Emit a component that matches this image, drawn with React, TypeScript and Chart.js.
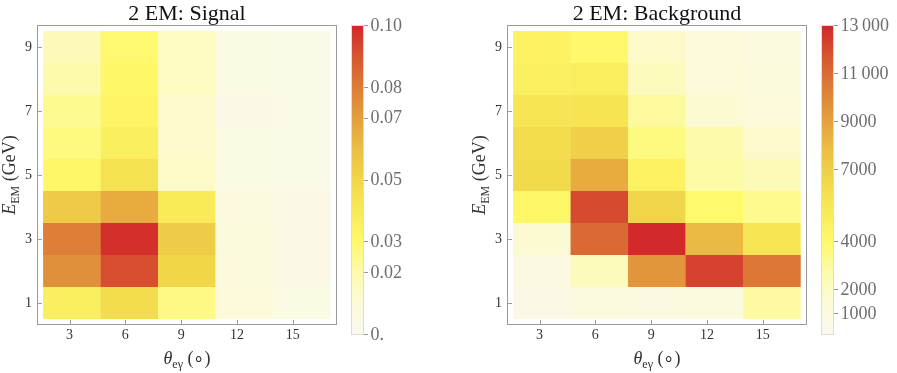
import React, { useEffect, useRef } from "react";
import { Chart, registerables } from "chart.js";

Chart.register(...registerables);

const SERIF = "'Liberation Serif', 'Times New Roman', serif";

// axis ticks
const xTicks = [3, 6, 9, 12, 15];
const yTicks = [1, 3, 5, 7, 9];
// bin centres of the cells
const xBinCenters = [3.13, 6.22, 9.31, 12.4, 15.49];
const yBinCenters = [1, 2, 3, 4, 5, 6, 7, 8, 9];
const xRange = [1.25, 17.38];
const yRange = [0.31, 9.69];

// rows: E_EM = 1 ... 9 ; columns: theta bins 3 ... 15
const signalRows = [
  [0.037, 0.047, 0.026, 0.009, 0.005],
  [0.074, 0.091, 0.05, 0.008, 0.004],
  [0.079, 0.098, 0.054, 0.008, 0.004],
  [0.055, 0.066, 0.04, 0.007, 0.004],
  [0.031, 0.044, 0.014, 0.005, 0.003],
  [0.027, 0.037, 0.013, 0.005, 0.003],
  [0.024, 0.033, 0.013, 0.004, 0.003],
  [0.02, 0.031, 0.015, 0.005, 0.003],
  [0.017, 0.029, 0.015, 0.005, 0.003],
];

const backgroundRows = [
  [600, 1000, 900, 1100, 2900],
  [900, 2200, 9500, 12200, 10600],
  [1600, 11000, 12900, 8000, 5600],
  [4200, 12000, 6700, 4000, 3300],
  [6300, 8600, 4600, 2800, 2400],
  [6200, 6900, 3600, 2700, 1800],
  [5600, 5700, 3000, 1600, 1400],
  [4800, 4900, 2200, 1400, 1200],
  [4600, 4100, 1900, 1300, 1100],
];

// colour bars
const signalBarTicks = [0, 0.02, 0.03, 0.05, 0.07, 0.08, 0.1];
const signalBarLabels = ["0.", "0.02", "0.03", "0.05", "0.07", "0.08", "0.10"];
const signalRange = [0, 0.1];

const backgroundBarTicks = [1000, 2000, 4000, 7000, 9000, 11000, 13000];
const backgroundBarLabels = ["1000", "2000", "4000", "7000", "9000", "11\u2009000", "13\u2009000"];
const backgroundRange = [142, 13000];

const colorStops: [number, string][] = [
  [0.0, "#FAF9EE"],
  [0.1, "#FCFAD8"],
  [0.2, "#FDFAAC"],
  [0.3, "#FFF96B"],
  [0.4, "#F8EA58"],
  [0.5, "#F1D64A"],
  [0.6, "#EBBE43"],
  [0.7, "#E49E3C"],
  [0.8, "#DD7C36"],
  [0.9, "#D75431"],
  [1.0, "#D2262A"],
];

function hexToRgb(h: string) {
  const n = parseInt(h.slice(1), 16);
  return [(n >> 16) & 255, (n >> 8) & 255, n & 255];
}

function colorFor(v: number, range: number[]) {
  let f = (v - range[0]) / (range[1] - range[0]);
  f = Math.max(0, Math.min(1, f));
  for (let i = 0; i < colorStops.length - 1; i++) {
    const [f0, c0] = colorStops[i];
    const [f1, c1] = colorStops[i + 1];
    if (f <= f1) {
      const t = (f - f0) / (f1 - f0);
      const a = hexToRgb(c0);
      const b = hexToRgb(c1);
      const m = a.map((x, k) => Math.round(x + (b[k] - x) * t));
      return `rgb(${m[0]},${m[1]},${m[2]})`;
    }
  }
  return colorStops[colorStops.length - 1][1];
}

type Seg = { text: string; font: string; dy: number };

function drawSegs(ctx: CanvasRenderingContext2D, segs: Seg[], cx: number, cy: number) {
  let total = 0;
  const widths = segs.map((s) => {
    ctx.font = s.font;
    const w = ctx.measureText(s.text).width;
    total += w;
    return w;
  });
  let x = cx - total / 2;
  segs.forEach((s, i) => {
    ctx.font = s.font;
    ctx.fillText(s.text, x, cy + s.dy);
    x += widths[i];
  });
}

type HeatProps = {
  title: string;
  rows: number[][];
  range: number[];
  barTicks: number[];
  barLabels: string[];
  left: number;
};

function Heatmap({ title, rows, range, barTicks, barLabels, left }: HeatProps) {
  const ref = useRef<HTMLCanvasElement | null>(null);

  useEffect(() => {
    if (!ref.current) return;
    const tickStep = xTicks[1] - xTicks[0];
    const binW = xBinCenters[1] - xBinCenters[0];

    const decor = {
      id: "decor",
      afterDraw(chart: any) {
        const ctx: CanvasRenderingContext2D = chart.ctx;
        const a = chart.chartArea;
        const xs = chart.scales.x;
        const ys = chart.scales.y;
        ctx.save();
        // frame
        ctx.strokeStyle = "#9a9a9a";
        ctx.lineWidth = 1;
        ctx.strokeRect(a.left + 0.5, a.top + 0.5, a.right - a.left - 1, a.bottom - a.top - 1);
        // inward ticks
        ctx.beginPath();
        xTicks.forEach((v) => {
          const px = Math.round(xs.getPixelForValue(v)) + 0.5;
          ctx.moveTo(px, a.bottom);
          ctx.lineTo(px, a.bottom - 5);
        });
        yTicks.forEach((v) => {
          const py = Math.round(ys.getPixelForValue(v)) + 0.5;
          ctx.moveTo(a.left, py);
          ctx.lineTo(a.left + 5, py);
        });
        ctx.stroke();

        // title
        ctx.fillStyle = "#111";
        ctx.textAlign = "center";
        ctx.textBaseline = "alphabetic";
        ctx.font = `22px ${SERIF}`;
        ctx.fillText(title, (a.left + a.right) / 2, a.top - 5.5);

        // x axis title
        ctx.textAlign = "left";
        ctx.fillStyle = "#333";
        drawSegs(
          ctx,
          [
            { text: "\u03B8", font: `italic 18px ${SERIF}`, dy: 0 },
            { text: "e\u03B3", font: `12px ${SERIF}`, dy: 4 },
            { text: " (\u2218)", font: `18px ${SERIF}`, dy: 0 },
          ],
          (a.left + a.right) / 2,
          a.bottom + 38.5
        );

        // y axis title
        ctx.save();
        ctx.translate(a.left - 21.7, (a.top + a.bottom) / 2);
        ctx.rotate(-Math.PI / 2);
        drawSegs(
          ctx,
          [
            { text: "E", font: `italic 18px ${SERIF}`, dy: 0 },
            { text: "EM", font: `12px ${SERIF}`, dy: 4 },
            { text: " (GeV)", font: `18px ${SERIF}`, dy: 0 },
          ],
          0,
          0
        );
        ctx.restore();

        // colour bar
        const bx0 = a.right + 14;
        const bx1 = a.right + 27;
        const top = a.top;
        const bottom = a.bottom + 9;
        const yFor = (v: number) => top + ((range[1] - v) / (range[1] - range[0])) * (bottom - top);
        const grad = ctx.createLinearGradient(0, bottom, 0, top);
        colorStops.forEach(([f, c]) => grad.addColorStop(f, c));
        ctx.fillStyle = grad;
        ctx.fillRect(bx0, top, bx1 - bx0, bottom + 1 - top);
        ctx.strokeStyle = "#dcdcdc";
        ctx.strokeRect(bx0 + 0.5, top + 0.5, bx1 - bx0 - 1, bottom + 1 - top - 1);
        ctx.strokeStyle = "#999";
        ctx.beginPath();
        barTicks.forEach((v) => {
          const py = Math.round(yFor(v)) + 0.5;
          ctx.moveTo(bx1, py);
          ctx.lineTo(bx1 + 4, py);
        });
        ctx.stroke();
        ctx.fillStyle = "#6e6e6e";
        ctx.font = `18px ${SERIF}`;
        ctx.textAlign = "left";
        ctx.textBaseline = "middle";
        barTicks.forEach((v, i) => {
          ctx.fillText(barLabels[i], bx1 + 6.5, yFor(v) + 1);
        });
        ctx.restore();
      },
    };

    const chart = new Chart(ref.current, {
      type: "bar",
      data: {
        datasets: rows.map((row, r) => ({
          data: row.map((_v, c) => ({
            x: xBinCenters[c],
            y: [yBinCenters[r] - 0.5, yBinCenters[r] + 0.5],
          })),
          backgroundColor: row.map((v) => colorFor(v, range)),
          borderWidth: 0,
          grouped: false,
          barPercentage: 1,
          categoryPercentage: (binW / tickStep) * 1.005,
        })),
      } as any,
      options: {
        animation: false,
        responsive: false,
        maintainAspectRatio: false,
        events: [],
        layout: { padding: { top: 25, right: 103, left: 0, bottom: 0 } },
        plugins: {
          legend: { display: false },
          tooltip: { enabled: false },
          title: { display: false },
        },
        scales: {
          x: {
            type: "linear",
            min: xRange[0],
            max: xRange[1],
            offset: false,
            grid: { display: false, drawTicks: false },
            border: { display: false },
            afterBuildTicks: (s: any) => {
              s.ticks = xTicks.map((v) => ({ value: v }));
            },
            afterFit: (s: any) => {
              s.height = 48;
            },
            ticks: {
              padding: 2,
              autoSkip: false,
              maxRotation: 0,
              color: "#333",
              font: { family: SERIF, size: 14 },
            },
          },
          y: {
            type: "linear",
            min: yRange[0],
            max: yRange[1],
            beginAtZero: false,
            grid: { display: false, drawTicks: false },
            border: { display: false },
            afterBuildTicks: (s: any) => {
              s.ticks = yTicks.map((v) => ({ value: v }));
            },
            afterFit: (s: any) => {
              s.width = 37;
            },
            ticks: {
              padding: 5,
              color: "#333",
              font: { family: SERIF, size: 14 },
            },
          },
        },
      } as any,
      plugins: [decor],
    });
    return () => chart.destroy();
  }, []);

  return (
    <canvas
      ref={ref}
      width={440}
      height={373}
      style={{ position: "absolute", left, top: 0, width: 440, height: 373 }}
    />
  );
}

export default function App() {
  return (
    <div style={{ position: "absolute", left: 0, top: 0, width: 897, height: 373, background: "#fff" }}>
      <Heatmap
        title="2 EM: Signal"
        rows={signalRows}
        range={signalRange}
        barTicks={signalBarTicks}
        barLabels={signalBarLabels}
        left={0}
      />
      <Heatmap
        title="2 EM: Background"
        rows={backgroundRows}
        range={backgroundRange}
        barTicks={backgroundBarTicks}
        barLabels={backgroundBarLabels}
        left={470}
      />
    </div>
  );
}
